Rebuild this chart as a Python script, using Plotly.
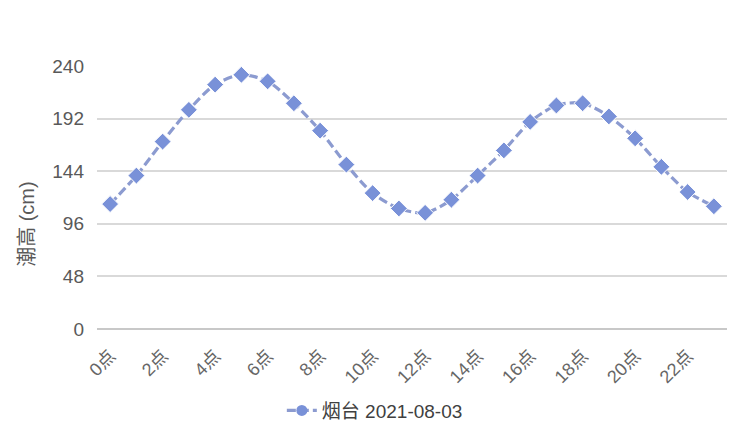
import plotly.graph_objects as go

hours = ["0点", "1点", "2点", "3点", "4点", "5点", "6点", "7点", "8点", "9点", "10点", "11点",
         "12点", "13点", "14点", "15点", "16点", "17点", "18点", "19点", "20点", "21点", "22点", "23点"]
tide = [114, 140, 171, 200, 223, 232, 226, 206, 181, 150, 124, 110,
        106, 118, 140, 163, 189, 204, 206, 194, 174, 148, 125, 112]
tick_labels = ["0点", "2点", "4点", "6点", "8点", "10点", "12点", "14点", "16点", "18点", "20点", "22点"]
y_ticks = [0, 48, 96, 144, 192, 240]
series_name = "烟台 2021-08-03"
y_title = "潮高 (cm)"

FONT = "Helvetica, Arial, 'Liberation Sans', 'Noto Sans CJK SC', sans-serif"
LINE_C = "#8c9bd0"
MARK_C = "#7991d8"

fig = go.Figure()
fig.add_trace(go.Scatter(
    x=hours, y=tide, mode="lines+markers", showlegend=False,
    line=dict(color=LINE_C, width=3.2, dash="9px,4px", shape="spline", smoothing=0.8),
    marker=dict(symbol="diamond", size=13, color=MARK_C, line=dict(color="white", width=1)),
))
fig.add_trace(go.Scatter(
    x=[None], y=[None], mode="lines+markers", name=series_name,
    line=dict(color=LINE_C, width=3.2, dash="9px,4px"),
    marker=dict(symbol="circle", size=11, color=MARK_C),
))

fig.update_layout(
    width=750, height=442,
    margin=dict(l=97, r=23, t=66, b=113, autoexpand=False),
    paper_bgcolor="white", plot_bgcolor="white",
    font=dict(family=FONT, size=18, color="#595959"),
    xaxis=dict(
        type="category", categoryorder="array", categoryarray=hours,
        range=[-0.5, 23.5],
        tickvals=tick_labels, ticktext=tick_labels, tickangle=-45,
        showgrid=False, showline=False, zeroline=False, ticks="",
        ticklabelstandoff=12,
        tickfont=dict(size=18, color="#666666"), automargin=False,
    ),
    yaxis=dict(
        range=[0, 240], tickvals=y_ticks, showgrid=True, gridcolor="#d9d9d9", gridwidth=1.5,
        zeroline=True, zerolinecolor="#c8c8c8", zerolinewidth=2, showline=False, ticks="",
        ticklabelstandoff=12, automargin=False,
        tickfont=dict(size=19, color="#595959"),
    ),
    annotations=[dict(
        text=y_title, textangle=-90, xref="paper", yref="paper",
        x=-0.111, y=0.40, xanchor="center", yanchor="middle", showarrow=False,
        font=dict(size=20, color="#595959"),
    )],
    legend=dict(orientation="h", x=0.441, xanchor="center", y=-0.31, yanchor="middle",
                font=dict(size=19, color="#404040")),
)

fig.write_html("out.html", config={"displayModeBar": False},
               post_script="document.body.style.margin='0';document.body.style.overflow='hidden';")
